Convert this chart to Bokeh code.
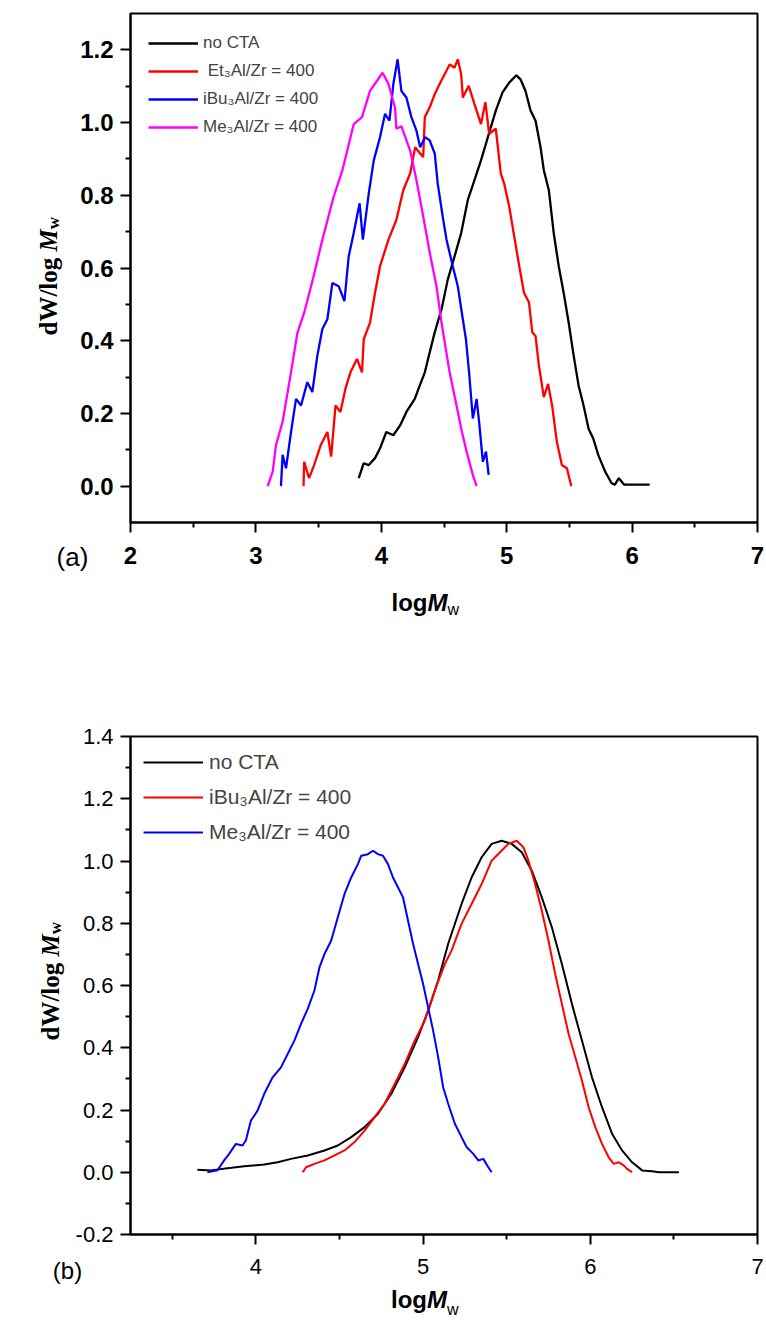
import math
from bokeh.plotting import figure
from bokeh.layouts import column
from bokeh.models import (FixedTicker, PrintfTickFormatter, Legend, LegendItem, Label, Div)
from bokeh.embed import file_html
from bokeh.resources import INLINE

# ---------------- data: panel (a) ----------------
a_noCTA_x = [3.82, 3.86, 3.90, 3.95, 3.99, 4.04, 4.096, 4.15, 4.20, 4.267, 4.307, 4.347, 4.386, 4.426,
             4.48, 4.53, 4.584, 4.637, 4.69, 4.743, 4.795, 4.85, 4.913, 4.967, 5.02, 5.077, 5.11, 5.15,
             5.19, 5.23, 5.27, 5.296, 5.336, 5.375, 5.415, 5.454, 5.494, 5.534, 5.573, 5.613, 5.653,
             5.69, 5.73, 5.785, 5.837, 5.863, 5.894, 5.937, 5.968, 6.14]
a_noCTA_y = [0.022, 0.063, 0.058, 0.077, 0.104, 0.149, 0.14, 0.167, 0.204, 0.24, 0.277, 0.313, 0.368,
             0.423, 0.486, 0.568, 0.632, 0.696, 0.787, 0.842, 0.896, 0.96, 1.033, 1.083, 1.11, 1.13,
             1.119, 1.087, 1.033, 1.005, 0.932, 0.869, 0.814, 0.696, 0.605, 0.532, 0.45, 0.359, 0.277,
             0.222, 0.158, 0.131, 0.086, 0.04, 0.008, 0.004, 0.022, 0.004, 0.004, 0.004]

a_Et_x = [3.38, 3.385, 3.424, 3.464, 3.517, 3.57, 3.60, 3.635, 3.674, 3.714, 3.754, 3.806, 3.846, 3.86,
          3.91, 3.95, 3.99, 4.057, 4.12, 4.175, 4.23, 4.27, 4.31, 4.334, 4.347, 4.386, 4.426, 4.465,
          4.505, 4.545, 4.584, 4.61, 4.637, 4.65, 4.697, 4.743, 4.795, 4.83, 4.86, 4.913, 4.953, 4.98,
          5.02, 5.06, 5.10, 5.138, 5.178, 5.204, 5.23, 5.257, 5.296, 5.33, 5.362, 5.40, 5.44, 5.48, 5.515]
a_Et_y = [0.0, 0.067, 0.022, 0.058, 0.113, 0.149, 0.081, 0.222, 0.204, 0.268, 0.313, 0.35, 0.313, 0.404,
          0.45, 0.532, 0.605, 0.678, 0.732, 0.814, 0.86, 0.932, 0.915, 0.905, 1.015, 1.042, 1.078, 1.106,
          1.133, 1.16, 1.151, 1.174, 1.133, 1.069, 1.101, 1.051, 0.996, 1.056, 0.969, 0.983, 0.86, 0.832,
          0.769, 0.687, 0.605, 0.532, 0.505, 0.423, 0.413, 0.331, 0.245, 0.281, 0.222, 0.122, 0.058,
          0.049, 0.0]

a_iBu_x = [3.20, 3.213, 3.24, 3.28, 3.32, 3.36, 3.41, 3.45, 3.49, 3.53, 3.57, 3.61, 3.66, 3.706, 3.74,
           3.78, 3.827, 3.853, 3.90, 3.94, 3.99, 4.03, 4.065, 4.096, 4.13, 4.16, 4.20, 4.24, 4.28, 4.31,
           4.35, 4.386, 4.426, 4.45, 4.49, 4.52, 4.57, 4.61, 4.65, 4.675, 4.70, 4.73, 4.76, 4.78, 4.81,
           4.835, 4.856]
a_iBu_y = [0.0, 0.086, 0.049, 0.149, 0.24, 0.222, 0.286, 0.259, 0.359, 0.432, 0.459, 0.559, 0.55, 0.509,
           0.632, 0.696, 0.778, 0.678, 0.805, 0.896, 0.96, 1.024, 1.005, 1.106, 1.174, 1.087, 1.069,
           1.015, 0.978, 0.932, 0.96, 0.951, 0.915, 0.832, 0.741, 0.678, 0.605, 0.55, 0.459, 0.404,
           0.313, 0.186, 0.24, 0.177, 0.067, 0.095, 0.031]

a_Me_x = [3.094, 3.134, 3.16, 3.213, 3.28, 3.33, 3.385, 3.46, 3.53, 3.62, 3.69, 3.78, 3.846, 3.91, 4.01,
          4.057, 4.11, 4.12, 4.16, 4.23, 4.28, 4.33, 4.387, 4.44, 4.48, 4.545, 4.60, 4.64, 4.68, 4.73, 4.76]
a_Me_y = [0.0, 0.04, 0.113, 0.177, 0.313, 0.42, 0.477, 0.577, 0.678, 0.796, 0.869, 0.996, 1.015, 1.087,
          1.137, 1.106, 1.04, 0.983, 0.99, 0.923, 0.842, 0.75, 0.641, 0.55, 0.45, 0.313, 0.222, 0.154,
          0.095, 0.031, 0.0]

# ---------------- data: panel (b) ----------------
b_noCTA_x = [3.65, 3.73, 3.83, 3.93, 4.05, 4.13, 4.21, 4.31, 4.41, 4.49, 4.57, 4.65, 4.73, 4.81, 4.89,
             4.97, 5.03, 5.09, 5.15, 5.23, 5.29, 5.35, 5.41, 5.47, 5.53, 5.59, 5.65, 5.71, 5.77, 5.83,
             5.89, 5.95, 6.01, 6.07, 6.13, 6.19, 6.25, 6.31, 6.37, 6.41, 6.53]
b_noCTA_y = [0.008, 0.006, 0.013, 0.019, 0.025, 0.032, 0.043, 0.054, 0.07, 0.086, 0.113, 0.145, 0.188,
             0.252, 0.337, 0.434, 0.519, 0.616, 0.734, 0.862, 0.947, 1.012, 1.055, 1.065, 1.055, 1.028,
             0.969, 0.883, 0.787, 0.669, 0.541, 0.423, 0.305, 0.209, 0.124, 0.07, 0.032, 0.006, 0.003,
             0.0, 0.0]

b_iBu_x = [4.28, 4.30, 4.35, 4.41, 4.47, 4.53, 4.59, 4.65, 4.71, 4.77, 4.83, 4.89, 4.95, 5.01, 5.07,
           5.13, 5.17, 5.23, 5.29, 5.35, 5.41, 5.46, 5.51, 5.56, 5.60, 5.63, 5.67, 5.71, 5.75, 5.79,
           5.83, 5.87, 5.91, 5.95, 5.99, 6.03, 6.07, 6.11, 6.14, 6.17, 6.20, 6.22, 6.25]
b_iBu_y = [0.0, 0.016, 0.027, 0.038, 0.054, 0.07, 0.097, 0.134, 0.177, 0.22, 0.284, 0.348, 0.423, 0.487,
           0.584, 0.669, 0.712, 0.798, 0.862, 0.926, 1.001, 1.028, 1.055, 1.065, 1.044, 1.001, 0.926,
           0.84, 0.744, 0.637, 0.541, 0.445, 0.37, 0.295, 0.209, 0.145, 0.091, 0.048, 0.027, 0.032,
           0.022, 0.011, 0.0]

b_Me_x = [3.71, 3.77, 3.81, 3.84, 3.88, 3.92, 3.94, 3.97, 4.01, 4.05, 4.10, 4.15, 4.19, 4.23, 4.27,
          4.31, 4.35, 4.38, 4.41, 4.45, 4.49, 4.53, 4.57, 4.61, 4.63, 4.67, 4.70, 4.73, 4.76, 4.79,
          4.82, 4.85, 4.88, 4.91, 4.94, 4.97, 5.00, 5.03, 5.06, 5.09, 5.12, 5.15, 5.19, 5.23, 5.26,
          5.30, 5.33, 5.36, 5.39, 5.41]
b_Me_y = [0.0, 0.006, 0.038, 0.059, 0.091, 0.086, 0.102, 0.166, 0.198, 0.252, 0.305, 0.337, 0.38, 0.423,
          0.477, 0.525, 0.584, 0.658, 0.701, 0.744, 0.819, 0.894, 0.947, 0.99, 1.017, 1.022, 1.033,
          1.022, 1.017, 0.99, 0.947, 0.915, 0.883, 0.808, 0.734, 0.669, 0.605, 0.53, 0.455, 0.37,
          0.273, 0.22, 0.156, 0.113, 0.081, 0.059, 0.038, 0.043, 0.016, 0.0]

# ---------------- ticks / labels ----------------
a_x_ticks = [2, 3, 4, 5, 6, 7]
a_x_minor = [2.5, 3.5, 4.5, 5.5, 6.5]
a_y_ticks = [0.0, 0.2, 0.4, 0.6, 0.8, 1.0, 1.2]
a_y_minor = [0.1, 0.3, 0.5, 0.7, 0.9, 1.1]
b_x_ticks = [4, 5, 6, 7]
b_x_minor = [3.5, 4.5, 5.5, 6.5]
b_y_ticks = [-0.2, 0.0, 0.2, 0.4, 0.6, 0.8, 1.0, 1.2, 1.4]
b_y_minor = [-0.1, 0.1, 0.3, 0.5, 0.7, 0.9, 1.1, 1.3]

a_labels = ["no CTA", " Et\u2083Al/Zr = 400", "iBu\u2083Al/Zr = 400", "Me\u2083Al/Zr = 400"]
b_labels = ["no CTA", "iBu\u2083Al/Zr = 400", "Me\u2083Al/Zr = 400"]

SANS = "Liberation Sans"
SERIF = "Liberation Serif"


def style_axes(p, xt, xm, yt, ym, bold, size, tick_out):
    p.xaxis.ticker = FixedTicker(ticks=xt, minor_ticks=xm)
    p.yaxis.ticker = FixedTicker(ticks=yt, minor_ticks=ym)
    p.xaxis.formatter = PrintfTickFormatter(format="%d")
    p.yaxis.formatter = PrintfTickFormatter(format="%.1f")
    for ax in (p.xaxis, p.yaxis):
        ax.axis_line_width = 2
        ax.axis_line_color = "black"
        ax.major_tick_line_width = 2
        ax.minor_tick_line_width = 2
        ax.major_tick_in = 0
        ax.major_tick_out = tick_out
        ax.minor_tick_in = 0
        ax.minor_tick_out = 5
        ax.major_label_text_font = SANS
        ax.major_label_text_font_style = "bold" if bold else "normal"
        ax.major_label_text_font_size = size
        ax.major_label_text_color = "black"
        ax.axis_label = None
    p.yaxis.major_label_standoff = 7
    p.xgrid.visible = False
    p.ygrid.visible = False
    p.outline_line_color = "black"
    p.outline_line_width = 2
    p.outline_line_alpha = 1.0


def lab(p, place, x, y, text, font, size, style="normal", angle=0.0, align="left",
        baseline="alphabetic"):
    # labels live in the side panels (outside the frame) so they are not clipped
    p.add_layout(Label(x=x, y=y, x_units="canvas", y_units="canvas", text=text,
                       text_font=font, text_font_size=size, text_font_style=style,
                       angle=angle, angle_units="rad", text_align=align,
                       text_baseline=baseline, text_color="black"), place)


def y_title(p, xb, ybottom, fs, w_place):
    # "dW/log " + italic "M" + subscript "w", rotated, reading upward
    w1 = 3.362 * fs
    w2 = 0.889 * fs
    a = math.pi / 2
    lab(p, "left", xb, ybottom, "dW/log ", SERIF, f"{fs}px", "bold", a)
    lab(p, "left", xb, ybottom - w1, "M", SERIF, f"{fs}px", "bold italic", a)
    lab(p, w_place, xb + 5, ybottom - w1 - w2, "w", SERIF, f"{int(fs * 0.68)}px", "bold", a)


# ---------------- panel (a) ----------------
pa = figure(width=766, height=690, x_range=(2, 7), y_range=(-0.1, 1.3),
            output_backend="svg", toolbar_location=None,
            min_border_left=125, min_border_right=9, min_border_top=13, min_border_bottom=168)
pa.background_fill_color = "white"
pa.border_fill_color = "white"
style_axes(pa, a_x_ticks, a_x_minor, a_y_ticks, a_y_minor, True, "24px", 10)
pa.xaxis.major_label_standoff = 14

ra = [
    pa.line(a_noCTA_x, a_noCTA_y, line_color="black", line_width=2.3),
    pa.line(a_Et_x, a_Et_y, line_color="#ff0000", line_width=2.3),
    pa.line(a_iBu_x, a_iBu_y, line_color="#0000ff", line_width=2.3),
    pa.line(a_Me_x, a_Me_y, line_color="#ff00ff", line_width=2.3),
]
leg_a = Legend(items=[LegendItem(label=t, renderers=[r]) for t, r in zip(a_labels, ra)],
               location="top_left", margin=18, padding=0, spacing=4,
               label_height=24, glyph_height=24, glyph_width=50, label_standoff=5,
               label_text_font=SANS, label_text_font_size="17px",
               border_line_color=None, background_fill_alpha=0.0)
pa.add_layout(leg_a)
y_title(pa, 48, 335, 25, "below")
lab(pa, "below", 391, 602, "log", SANS, "24px", "bold")
lab(pa, "below", 391 + 36, 602, "M", SANS, "24px", "bold italic")
lab(pa, "left", 391 + 36 + 20, 609, "w", SANS, "16px")
lab(pa, "below", 72, 556, "(a)", SANS, "26px", align="center", baseline="middle")

# ---------------- panel (b) ----------------
TOP_B = 690
pb = figure(width=766, height=1286 - TOP_B, x_range=(3.25, 7.0), y_range=(-0.2, 1.4),
            output_backend="svg", toolbar_location=None,
            min_border_left=130, min_border_right=9, min_border_top=736 - TOP_B,
            min_border_bottom=1286 - 1234)
pb.background_fill_color = "white"
pb.border_fill_color = "white"
style_axes(pb, b_x_ticks, b_x_minor, b_y_ticks, b_y_minor, False, "22px", 10)
pb.xaxis.major_label_standoff = 14

rb = [
    pb.line(b_noCTA_x, b_noCTA_y, line_color="black", line_width=2),
    pb.line(b_iBu_x, b_iBu_y, line_color="#ff0000", line_width=2),
    pb.line(b_Me_x, b_Me_y, line_color="#0000ff", line_width=2),
]
leg_b = Legend(items=[LegendItem(label=t, renderers=[r]) for t, r in zip(b_labels, rb)],
               location="top_left", margin=13, padding=0, spacing=9,
               label_height=26, glyph_height=26, glyph_width=60, label_standoff=6,
               label_text_font=SANS, label_text_font_size="21px",
               border_line_color=None, background_fill_alpha=0.0)
pb.add_layout(leg_b)
y_title(pb, 50, 1040 - TOP_B, 25, "above")
lab(pb, "above", 67, 1270 - TOP_B, "(b)", SANS, "24px", align="center", baseline="middle")

xtitle_b = Div(
    text=('<div style="position:absolute; left:391px; top:2px; white-space:nowrap; '
          'font-family:\'Liberation Sans\'; font-size:24px; line-height:24px; color:black;">'
          '<b>log<i>M</i></b><sub style="font-size:16px; font-weight:normal; '
          'vertical-align:-7px; line-height:0;">w</sub></div>'),
    width=766, height=1320 - 1286, styles={"position": "relative", "margin": "0"})

layout = column(pa, pb, xtitle_b, spacing=0)
with open("out.html", "w") as f:
    f.write(file_html(layout, INLINE))
